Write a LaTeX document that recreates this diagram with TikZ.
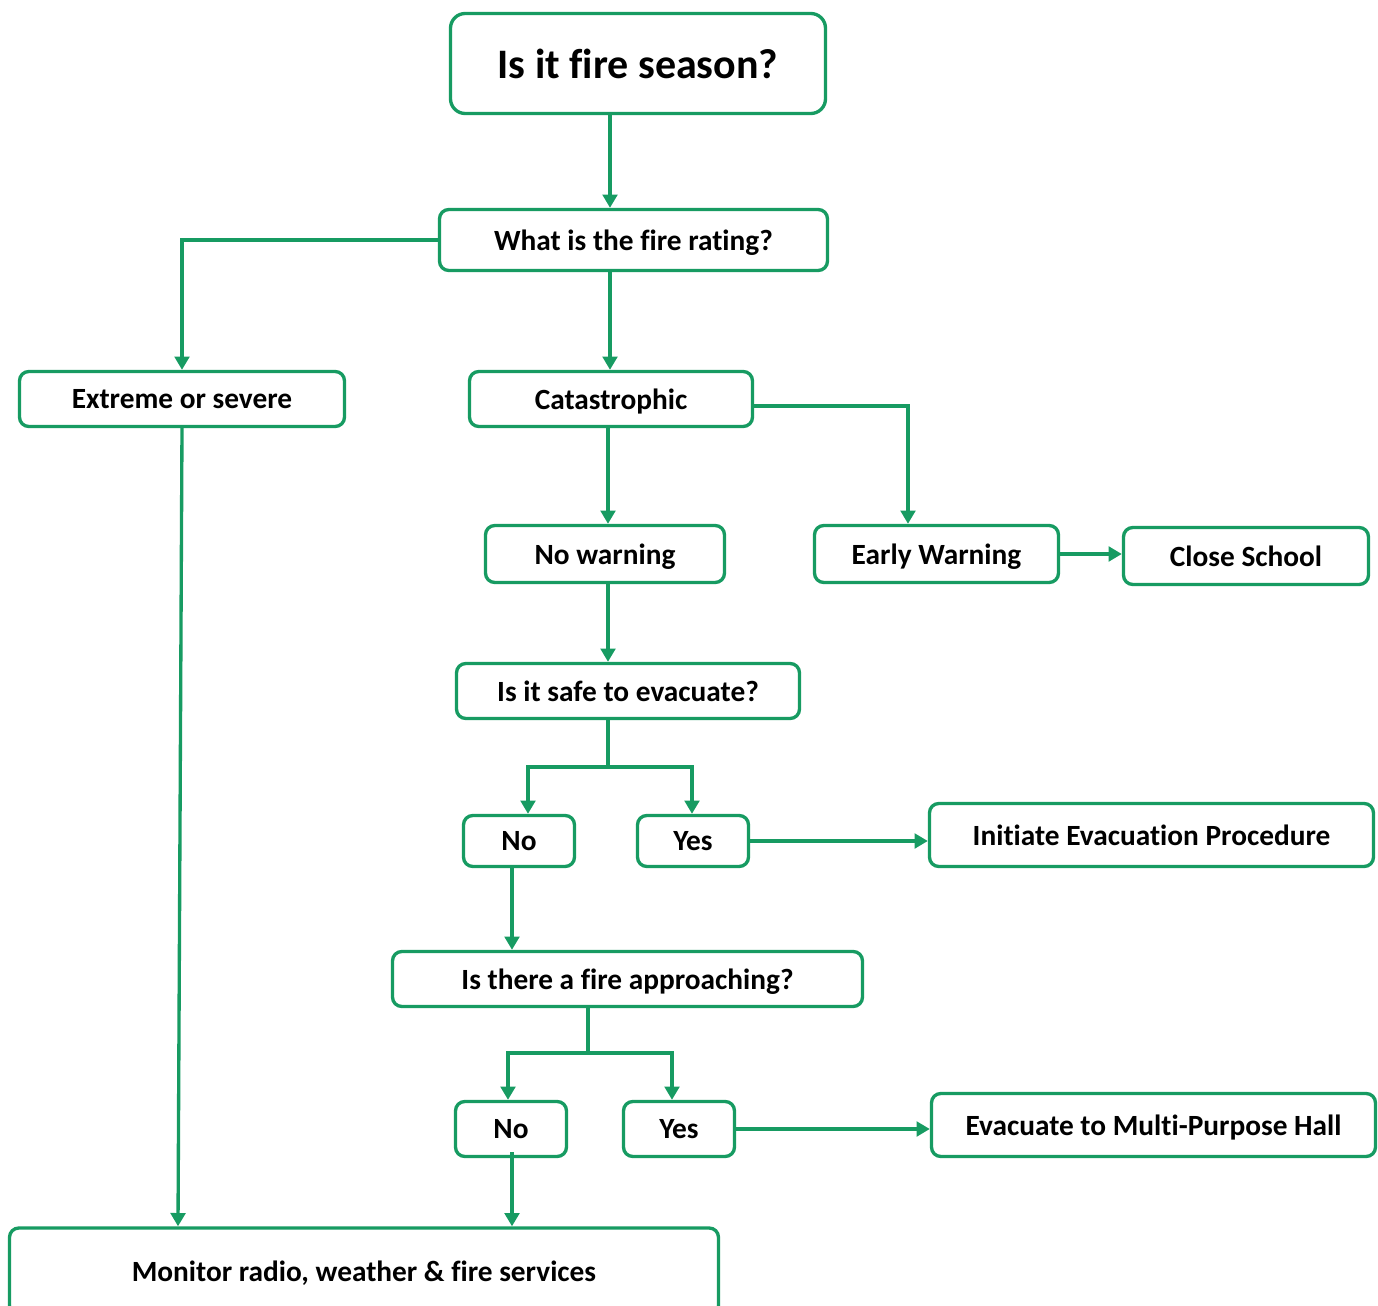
\documentclass[tikz,border=0pt]{standalone}
\usepackage{fontspec}
\setmainfont{Carlito}[Ligatures=CommonOff]
\usetikzlibrary{arrows.meta}
\definecolor{fgreen}{RGB}{23,155,98}
\tikzset{
  box/.style={draw=fgreen, line width=2.5pt, rounded corners=7pt, inner sep=0pt,
    align=center, font=\bfseries\fontsize{22}{26}\selectfont, text=black, text depth=0pt},
  conn/.style={draw=fgreen, line width=2.5pt, -{Triangle[length=10pt,width=11pt]}},
  plain/.style={draw=fgreen, line width=2.5pt},
}
\begin{document}
\begin{tikzpicture}[x=0.75pt,y=-0.75pt]
\useasboundingbox (0,0) rectangle (1378,1306);
\begin{scope}
\clip (0,0) rectangle (1378,1306);
% nodes
\node[box, rounded corners=11pt, minimum width=281.25pt, minimum height=75pt,
  font=\bfseries\fontsize{31.5}{36}\selectfont] (season) at (638,63.5) {Is it fire season?};
\node[box, minimum width=291pt, minimum height=45.75pt] (rating) at (633.5,240) {What is the fire rating?};
\node[box, minimum width=243.75pt, minimum height=41.25pt] (extreme) at (182,399) {Extreme or severe};
\node[box, minimum width=212.25pt, minimum height=41.25pt] (cat) at (611,399) {Catastrophic};
\node[box, minimum width=179.25pt, minimum height=42.75pt] (nowarn) at (605,554) {No warning};
\node[box, minimum width=183pt, minimum height=42.75pt] (early) at (936.5,554) {Early Warning};
\node[box, minimum width=183.75pt, minimum height=42.75pt] (close) at (1246,556) {Close School};
\node[box, minimum width=257.25pt, minimum height=41.25pt] (safe) at (628,691) {Is it safe to evacuate?};
\node[box, minimum width=83.25pt, minimum height=38.25pt] (noA) at (519,841) {No};
\node[box, minimum width=83.25pt, minimum height=38.25pt] (yesA) at (693,841) {Yes};
\node[box, minimum width=333pt, minimum height=47.25pt] (init) at (1151.5,835) {Initiate Evacuation Procedure};
\node[box, minimum width=352.5pt, minimum height=41.25pt] (appr) at (627.5,979) {Is there a fire approaching?};
\node[box, minimum width=83.25pt, minimum height=41.25pt] (noB) at (511,1129) {No};
\node[box, minimum width=83.25pt, minimum height=41.25pt] (yesB) at (679,1129) {Yes};
\node[box, minimum width=333pt, minimum height=47.25pt] (evac) at (1153.5,1125) {Evacuate to Multi-Purpose Hall};
\node[box, minimum width=531.75pt, minimum height=65.25pt] (monitor) at (364,1271.5) {Monitor radio, weather \& fire services};
% helper coordinates
\coordinate (colA) at (610,0);
\coordinate (colC) at (908,0);
\coordinate (colD) at (608,0);
\coordinate (colE) at (528,0);
\coordinate (colF) at (692,0);
\coordinate (colG) at (512,0);
\coordinate (colH) at (588,0);
\coordinate (colI) at (508,0);
\coordinate (colJ) at (672,0);
\coordinate (colK) at (178,0);
\coordinate (rowcat) at (0,406);
\coordinate (rowS) at (0,767);
\coordinate (rowT) at (0,1053);
\coordinate (rowNo) at (0,1152);
% connectors
\draw[conn] (season.south -| colA) -- (rating.north -| colA);
\draw[conn] (rating.west) -| (extreme.north);
\draw[conn] (rating.south -| colA) -- (cat.north -| colA);
\draw[conn] (cat.east |- rowcat) -| (early.north -| colC);
\draw[conn] (cat.south -| colD) -- (nowarn.north -| colD);
\draw[conn] (early.east) -- (early.east -| close.west);
\draw[conn] (nowarn.south -| colD) -- (safe.north -| colD);
\draw[plain] (safe.south -| colD) -- (colD |- rowS);
\draw[conn] (colD |- rowS) -| (noA.north -| colE);
\draw[conn] (colD |- rowS) -| (yesA.north -| colF);
\draw[conn] (yesA.east) -- (yesA.east -| init.west);
\draw[conn] (noA.south -| colG) -- (appr.north -| colG);
\draw[plain] (appr.south -| colH) -- (colH |- rowT);
\draw[conn] (colH |- rowT) -| (noB.north -| colI);
\draw[conn] (colH |- rowT) -| (yesB.north -| colJ);
\draw[conn] (yesB.east) -- (yesB.east -| evac.west);
\draw[conn] (colG |- rowNo) -- (monitor.north -| colG);
\draw[conn] (extreme.south) -- (monitor.north -| colK);
\end{scope}
\end{tikzpicture}
\end{document}
